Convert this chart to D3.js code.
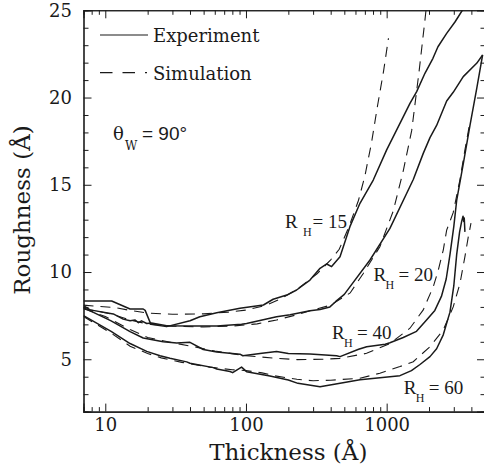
<!DOCTYPE html>
<html><head><meta charset="utf-8">
<script src="https://cdn.jsdelivr.net/npm/d3@7"></script>
<style>body{margin:0;background:#fff}svg{display:block}</style>
</head><body><svg id="c" width="484" height="472"></svg>
<script>
// ---- data ----
const xMajorTicks = [10, 100, 1000];
const xMinorTicks = [8, 9, 20, 30, 40, 50, 60, 70, 80, 90, 200, 300, 400, 500, 600, 700, 800, 900, 2000, 3000, 4000];
const yMajorTicks = [5, 10, 15, 20, 25];
const yMinorTicks = [3, 4, 6, 7, 8, 9, 11, 12, 13, 14, 16, 17, 18, 19, 21, 22, 23, 24];
const legendLabels = ["Experiment", "Simulation"];
const seriesNames = ["15", "20", "40", "60"];

const expRH15 = [[7,8.34],[11.1,8.34],[15,7.88],[18.6,7.88],[19.2,7.8],[21.1,7.0],[27.3,6.87],[40,7.21],[47,7.44],[62,7.67],[90.6,7.92],[133,8.11],[156,8.44],[195,8.68],[229,8.97],[285,9.54],[336,10.21],[375,10.46],[406,10.31],[466,10.88],[548,12.6],[646,13.94],[803,15.27],[1000,17.0],[1243,18.52],[1464,19.67],[1634,20.34],[1871,21.39],[2133,22.25],[2315,22.91],[2670,23.68],[3058,24.33],[3450,25.0],[3700,25.4]];
const expRH20 = [[7,8.08],[7.8,7.83],[11.4,7.6],[13.4,7.3],[15,7.21],[16.3,7.25],[17.2,7.1],[18.1,7.2],[19.7,7.05],[21.3,7.08],[27.3,6.92],[40,6.9],[62,6.9],[93,7.0],[101,7.05],[165,7.44],[206,7.55],[285,7.78],[336,7.85],[395,8.0],[433,8.3],[500,8.72],[761,10.69],[1055,12.5],[1546,15.3],[1820,16.8],[2032,17.7],[2265,18.4],[2670,19.8],[2972,20.3],[3503,21.2],[4362,21.96],[4810,22.44]];
const expRH40 = [[7,7.96],[11,7.2],[15,6.58],[18.6,6.22],[25.8,6.0],[32.2,5.93],[40,5.97],[49.7,5.56],[62,5.42],[90.6,5.29],[95,5.2],[130,5.35],[165,5.44],[200,5.33],[285,5.3],[441,5.2],[466,5.15],[632,5.57],[721,5.72],[977,5.86],[1055,5.95],[1312,6.25],[1630,6.6],[1900,7.2],[2200,7.8],[2450,8.6],[2650,9.6],[2818,11.0],[3000,12.6],[3145,14.1],[3503,16.2],[3910,18.4],[4362,20.5],[4810,22.44]];
const expRH60 = [[7,7.5],[11,6.6],[15,5.9],[19.7,5.45],[24.5,5.2],[28.8,5.06],[37.9,4.85],[40,4.77],[58.6,4.52],[62,4.44],[77,4.3],[80.4,4.23],[93,4.55],[101,4.29],[148,4.04],[200,3.81],[234,3.62],[336,3.43],[489,3.66],[646,3.82],[1243,4.06],[1500,4.35],[1725,4.7],[2032,5.15],[2265,5.6],[2525,6.4],[2818,7.7],[3000,9.2],[3145,11.0],[3300,12.3],[3413,12.9],[3490,13.2],[3530,12.9],[3560,13.1],[3600,12.3]];

const simRH15 = [[7,8.1],[12,7.95],[15,7.8],[20,7.65],[30,7.58],[50,7.6],[75,7.7],[100,7.82],[140,8.1],[180,8.5],[230,9.0],[320,9.9],[400,10.7],[460,11.3],[540,12.6],[630,14.1],[700,15.5],[780,17.4],[860,19.5],[950,21.5],[1030,23.4]];
const simRH20 = [[7,7.9],[11,7.6],[15,7.25],[20,7.02],[30,6.9],[50,6.85],[80,6.9],[120,7.03],[165,7.25],[230,7.55],[285,7.78],[400,8.1],[550,8.8],[680,9.9],[895,11.45],[1114,13.5],[1312,15.8],[1506,18.1],[1700,21.5],[1871,24.44],[1920,25.3]];
const simRH40 = [[7,7.9],[10,7.45],[15,6.7],[20,6.25],[30,5.95],[45,5.68],[60,5.47],[100,5.2],[160,5.06],[230,4.98],[350,5.0],[466,5.05],[720,5.34],[1055,5.9],[1464,6.78],[1820,7.83],[2145,9.16],[2327,10.1],[2525,11.26],[2670,12.4],[2970,13.4],[3320,15.3],[3600,17.0],[3850,18.3]];
const simRH60 = [[7,7.45],[11,6.5],[15,5.75],[20,5.33],[25,5.08],[35,4.82],[55,4.55],[80,4.4],[100,4.35],[130,4.22],[160,4.05],[230,3.85],[300,3.77],[400,3.8],[646,3.91],[895,4.2],[1243,4.58],[1546,4.86],[2032,5.72],[2525,6.68],[2972,8.0],[3320,9.35],[3600,10.88],[3800,12.0],[3975,12.8]];

const experiments = [expRH15, expRH20, expRH40, expRH60];
const simulations = [simRH15, simRH20, simRH40, simRH60];

// ---- layout ----
const svg = d3.select("#c");
const L = 83.5, R = 485, T = 10.3, B = 411.6;
const x = d3.scaleLog().domain([7, 5000]).range([L, R]);
const y = d3.scaleLinear().domain([2, 25]).range([B, T]);
const serif = "'DejaVu Serif', serif";
const ink = "#1a1a1a";

svg.append("defs").append("clipPath").attr("id", "clip")
  .append("rect").attr("x", L).attr("y", T).attr("width", R - L).attr("height", B - T);

function styleAxis(g) {
  g.select(".domain").attr("stroke", ink).attr("stroke-width", 1.1);
  g.selectAll(".tick line").attr("stroke", ink).attr("stroke-width", 1);
  g.selectAll("text").attr("font-family", serif).attr("font-size", 18).attr("fill", ink);
}

// bottom
svg.append("g").attr("transform", `translate(0,${B})`)
  .call(d3.axisBottom(x).tickValues(xMajorTicks).tickFormat(d3.format("d")).tickSize(-8).tickPadding(7))
  .call(styleAxis);
svg.append("g").attr("transform", `translate(0,${B})`)
  .call(d3.axisBottom(x).tickValues(xMinorTicks).tickFormat("").tickSize(-4.5))
  .call(styleAxis);
// top
svg.append("g").attr("transform", `translate(0,${T})`)
  .call(d3.axisTop(x).tickValues(xMajorTicks).tickFormat("").tickSize(-8))
  .call(styleAxis);
svg.append("g").attr("transform", `translate(0,${T})`)
  .call(d3.axisTop(x).tickValues(xMinorTicks).tickFormat("").tickSize(-4.5))
  .call(styleAxis);
// left
svg.append("g").attr("transform", `translate(${L},0)`)
  .call(d3.axisLeft(y).tickValues(yMajorTicks).tickFormat(d3.format("d")).tickSize(-8).tickPadding(11.5))
  .call(styleAxis);
svg.append("g").attr("transform", `translate(${L},0)`)
  .call(d3.axisLeft(y).tickValues(yMinorTicks).tickFormat("").tickSize(-5))
  .call(styleAxis);
// right
svg.append("g").attr("transform", `translate(${R},0)`)
  .call(d3.axisRight(y).tickValues(yMajorTicks).tickFormat("").tickSize(-8))
  .call(styleAxis);
svg.append("g").attr("transform", `translate(${R},0)`)
  .call(d3.axisRight(y).tickValues(yMinorTicks).tickFormat("").tickSize(-4.5))
  .call(styleAxis);

// axis titles
svg.append("text").attr("x", (L + R) / 2 + 4).attr("y", 460).attr("text-anchor", "middle")
  .attr("font-family", serif).attr("font-size", 23).attr("fill", ink).text("Thickness (Å)");
svg.append("text").attr("transform", `translate(30,210) rotate(-90)`).attr("text-anchor", "middle")
  .attr("font-family", serif).attr("font-size", 23).attr("fill", ink).text("Roughness (Å)");

// curves
const line = d3.line().x(d => x(d[0])).y(d => y(d[1]));
const plot = svg.append("g").attr("clip-path", "url(#clip)");
plot.selectAll("path.sim").data(simulations).join("path").attr("class", "sim")
  .attr("d", line).attr("fill", "none").attr("stroke", ink).attr("stroke-width", 1.1)
  .attr("stroke-dasharray", "10,7");
plot.selectAll("path.exp").data(experiments).join("path").attr("class", "exp")
  .attr("d", line).attr("fill", "none").attr("stroke", ink).attr("stroke-width", 1.5)
  .attr("stroke-linejoin", "round");

// legend
svg.append("line").attr("x1", 100).attr("x2", 148).attr("y1", 35).attr("y2", 35)
  .attr("stroke", ink).attr("stroke-width", 1.2);
svg.append("line").attr("x1", 100).attr("x2", 147).attr("y1", 72.7).attr("y2", 72.7)
  .attr("stroke", ink).attr("stroke-width", 1.2).attr("stroke-dasharray", "12.5,10");
svg.append("text").attr("x", 153).attr("y", 41.5).attr("font-family", serif).attr("font-size", 18)
  .attr("fill", ink).text(legendLabels[0]);
svg.append("text").attr("x", 153).attr("y", 80).attr("font-family", serif).attr("font-size", 18)
  .attr("fill", ink).text(legendLabels[1]);

// theta label
const th = svg.append("text").attr("fill", ink);
th.append("tspan").attr("x", 113).attr("y", 140).attr("font-family", serif).attr("font-size", 18).text("θ");
th.append("tspan").attr("x", 125).attr("y", 150).attr("font-family", serif).attr("font-size", 12).text("W");
th.append("tspan").attr("x", 142).attr("y", 140).attr("font-family", "'Liberation Sans', sans-serif").attr("font-size", 19).text("= 90°");

// R_H labels
const rhPos = [[285, 228], [373.5, 281], [332, 339], [403.7, 394.3]];
const eqOffset = [27.5, 25, 25, 25];
seriesNames.forEach((n, i) => {
  const [px, py] = rhPos[i];
  const t = svg.append("text").attr("fill", ink).attr("font-family", "'Liberation Serif', serif");
  t.append("tspan").attr("x", px).attr("y", py).attr("font-size", 19).text("R");
  t.append("tspan").attr("x", px + (i === 0 ? 18 : 12)).attr("y", py + 8).attr("font-size", 12).text("H");
  t.append("tspan").attr("x", px + eqOffset[i]).attr("y", py).attr("font-size", 19).text("= " + n);
});
</script></body></html>
